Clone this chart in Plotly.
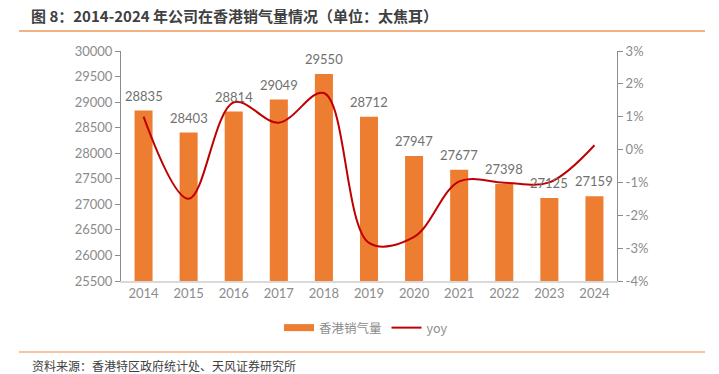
import plotly.graph_objects as go

W, H = 719, 374
years = ["2014", "2015", "2016", "2017", "2018", "2019", "2020", "2021", "2022", "2023", "2024"]
volume = [28835, 28403, 28814, 29049, 29550, 28712, 27947, 27677, 27398, 27125, 27159]
yoy = [1.0, -1.5, 1.44, 0.82, 1.72, -2.84, -2.66, -0.97, -1.01, -1.00, 0.13]
left_ticks = list(range(25500, 30001, 500))
right_ticks = [-4, -3, -2, -1, 0, 1, 2, 3]

title = "图 8：2014-2024 年公司在香港销气量情况（单位：太焦耳）"
source = "资料来源：香港特区政府统计处、天风证券研究所"

CJK = "Noto Sans CJK SC"
TICKF = "Lato, Noto Sans CJK SC"
BAR_C = "#ED7D31"
LINE_C = "#C00000"
TXT_C = "#8c8c8c"

def px_x(x):
    return x / W

def px_y(y):
    return 1 - y / H

fig = go.Figure()
fig.add_trace(go.Bar(
    x=years, y=volume, name="香港销气量",
    marker=dict(color=BAR_C, line=dict(width=0)),
    width=0.4, showlegend=False, yaxis="y",
))
fig.add_trace(go.Scatter(
    x=years, y=yoy, name="yoy", mode="lines",
    line=dict(color=LINE_C, width=2, shape="spline", smoothing=1.0),
    yaxis="y2", showlegend=False,
))
# legend entries
fig.add_trace(go.Scatter(x=[years[0]], y=[None], mode="lines", name="香港销气量",
                         line=dict(color=BAR_C, width=7), yaxis="y"))
fig.add_trace(go.Scatter(x=[years[0]], y=[None], mode="lines", name="yoy",
                         line=dict(color=LINE_C, width=2), yaxis="y2"))

for i, (yr, v) in enumerate(zip(years, volume)):
    fig.add_annotation(x=i, y=v, xref="x", yref="y", text=str(v), showarrow=False,
                       yanchor="bottom", yshift=5,
                       font=dict(family=TICKF, size=13, color="#707070"))

axis_common = dict(showline=True, linecolor="#8c8c8c", linewidth=1, ticks="outside", ticklen=5,
                   tickcolor="#8c8c8c", tickfont=dict(family=TICKF, size=13, color=TXT_C),
                   showgrid=False, zeroline=False, automargin=False)

fig.update_layout(
    width=W, height=H,
    margin=dict(l=0, r=0, t=0, b=0),
    paper_bgcolor="white", plot_bgcolor="white",
    showlegend=True,
    legend=dict(orientation="h", x=px_x(366), xanchor="center", y=px_y(328), yanchor="middle",
                font=dict(family=CJK, size=12.5, color="#8c8c8c"),
                traceorder="normal", itemwidth=30),
    xaxis=dict(type="category", range=[-0.5, len(years) - 0.5],
               domain=[px_x(121), px_x(617)], showline=True, linecolor="#d9d9d9", linewidth=1.5,
               ticks="", tickfont=dict(family=TICKF, size=13, color=TXT_C),
               showgrid=False, zeroline=False, automargin=False),
    yaxis=dict(domain=[px_y(281), px_y(51)], range=[25500, 30000], tickvals=left_ticks,
               ticktext=[str(t) for t in left_ticks], **axis_common),
    yaxis2=dict(overlaying="y", side="right", range=[-4, 3], tickvals=right_ticks,
                ticktext=[f"{t}%" for t in right_ticks], **axis_common),
    bargap=0.6,
)

fig.add_annotation(text="<b>" + title + "</b>", x=px_x(29), y=px_y(15), xref="paper", yref="paper",
                   xanchor="left", yanchor="middle", showarrow=False,
                   font=dict(family=CJK, size=15, color="#404040"))
fig.add_annotation(text=source, x=px_x(30), y=px_y(365), xref="paper", yref="paper",
                   xanchor="left", yanchor="middle", showarrow=False,
                   font=dict(family=CJK, size=12, color="#404040"))
fig.add_shape(type="line", xref="paper", yref="paper", x0=px_x(19), x1=px_x(705),
              y0=px_y(31), y1=px_y(31), line=dict(color="#F4B183", width=2))
fig.add_shape(type="line", xref="paper", yref="paper", x0=px_x(19), x1=px_x(705),
              y0=px_y(352), y1=px_y(352), line=dict(color="#F4B183", width=1.5))

fig.write_html("out.html", config={"displayModeBar": False},
               post_script="document.body.style.margin='0';document.body.style.overflow='hidden';")
